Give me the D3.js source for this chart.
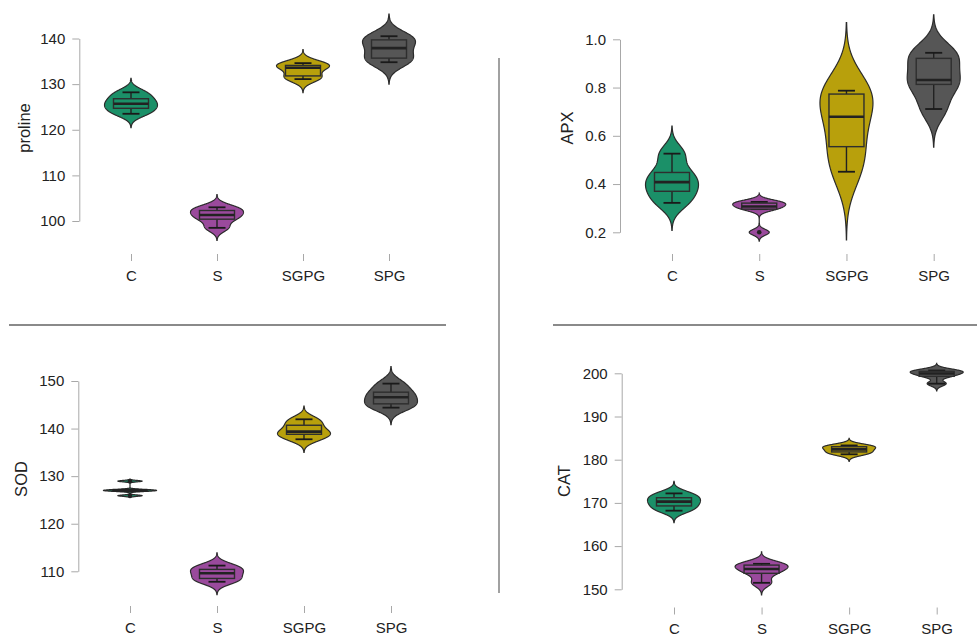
<!DOCTYPE html>
<html>
<head>
<meta charset="utf-8">
<script src="https://cdnjs.cloudflare.com/ajax/libs/d3/7.8.5/d3.min.js"></script>
<style>
    body { margin: 0; background: #fff; }
    svg text { font-family: "Liberation Sans", Arial, sans-serif; fill: #222; }
</style>
</head>
<body>
<svg id="chart" width="977" height="636"></svg>
<script>

// groups shared by all four panels
const groups = ['C', 'S', 'SGPG', 'SPG'];
const groupColors = ['#1b9068', '#9a4a9c', '#b8a00c', '#565656'];

const prolineValues = [
    [123.5, 124.7, 125.7, 126.8, 128.2],
    [98.5, 100.4, 101.3, 102.3, 103.0],
    [131.1, 131.8, 133.6, 134.1, 134.6],
    [134.8, 135.7, 137.9, 139.7, 140.5]
];
const apxValues = [
    [0.322, 0.370, 0.408, 0.448, 0.526],
    [0.200, 0.296, 0.307, 0.321, 0.326],
    [0.451, 0.555, 0.679, 0.773, 0.787],
    [0.711, 0.813, 0.831, 0.921, 0.944]
];
const sodValues = [
    [125.9, 126.85, 127.0, 127.15, 128.95],
    [107.8, 108.5, 109.6, 110.4, 111.2],
    [137.75, 138.8, 139.35, 140.7, 141.95],
    [144.4, 145.2, 146.6, 147.65, 149.45]
];
const catValues = [
    [168.2, 169.3, 170.3, 171.2, 172.2],
    [151.5, 153.7, 154.7, 155.6, 155.9],
    [181.25, 181.8, 182.4, 183.0, 183.3],
    [197.6, 199.3, 199.95, 200.45, 200.65]
];

const prolineTicks = [100, 110, 120, 130, 140];
const apxTicks = [0.2, 0.4, 0.6, 0.8, 1.0];
const sodTicks = [110, 120, 130, 140, 150];
const catTicks = [150, 160, 170, 180, 190, 200];

const svg = d3.select('#chart');

class ViolinPanel {

    constructor(layout)
    {
        this.layout = layout;
        this.halfWidth = 26.5;   // widest point of every violin
        this.boxHalf = 17.5;
        this.capHalf = 8.5;
    }

    // gaussian kde, bandwidth like R's bw.nrd0, tails cut at 3 bw (ggplot default)
    density(sorted)
    {
        let q1 = d3.quantileSorted(sorted, 0.25);
        let q3 = d3.quantileSorted(sorted, 0.75);
        let sd = d3.deviation(sorted);
        let lo = Math.min(sd, (q3 - q1) / 1.34);
        if(!lo) lo = sd || Math.abs(sorted[0]) || 1;
        let bw = 0.9 * lo * Math.pow(sorted.length, -0.2);

        let from = sorted[0] - 3 * bw;
        let to = sorted[sorted.length - 1] + 3 * bw;
        let n = 256;
        return d3.range(n).map(function(i){
            let v = from + (to - from) * i / (n - 1);
            let d = 0;
            sorted.forEach(function(x){
                let z = (v - x) / bw;
                d += Math.exp(-0.5 * z * z);
            });
            return {'v': v, 'd': d};
        });
    }

    draw(title, values, ticks, format)
    {
        let L = this.layout;
        let g = svg.append('g');

        this.yScale = d3.scaleLinear()
            .domain([ticks[0], ticks[ticks.length - 1]])
            .range([L.bottom, L.top]);

        this.xScale = d3.scalePoint()
            .domain(groups)
            .range([L.firstX, L.lastX]);

        // y axis
        let yAxis = d3.axisLeft(this.yScale)
            .tickValues(ticks)
            .tickFormat(d3.format(format))
            .tickSize(7)
            .tickSizeOuter(0)
            .tickPadding(7);

        let ya = g.append('g')
            .attr('transform', 'translate(' + L.axisX + ',0)')
            .call(yAxis);
        ya.select('.domain').attr('stroke', '#a8a8a8');
        ya.selectAll('.tick line').attr('stroke', '#a8a8a8');
        ya.selectAll('.tick text').style('font-size', '15px').attr('fill', '#222');

        // x axis: only ticks and labels
        let xAxis = d3.axisBottom(this.xScale)
            .tickSize(7)
            .tickSizeOuter(0)
            .tickPadding(9);

        let xa = g.append('g')
            .attr('transform', 'translate(0,' + L.tickY + ')')
            .call(xAxis);
        xa.select('.domain').remove();
        xa.selectAll('.tick line').attr('stroke', '#a8a8a8');
        xa.selectAll('.tick text').style('font-size', '15px').attr('fill', '#222');

        g.append('text')
            .attr('transform', 'translate(' + L.titleX + ',' + L.titleY + ') rotate(-90)')
            .attr('text-anchor', 'middle')
            .attr('dy', '0.35em')
            .style('font-size', '16.5px')
            .text(title);

        values.forEach((vals, i) => {
            this.drawViolin(g, groups[i], vals, groupColors[i]);
        });
    }

    drawViolin(g, name, vals, color)
    {
        let sorted = vals.slice().sort(d3.ascending);
        let cx = this.xScale(name);
        let y = this.yScale;

        let dens = this.density(sorted);
        let maxD = d3.max(dens, d => d.d);
        let w = d3.scaleLinear().domain([0, maxD]).range([0, this.halfWidth]);

        let area = d3.area()
            .y(d => y(d.v))
            .x0(d => cx - w(d.d))
            .x1(d => cx + w(d.d));

        g.append('path')
            .datum(dens)
            .attr('d', area)
            .attr('fill', color)
            .attr('stroke', '#2b2b2b')
            .attr('stroke-width', 1.2);

        // boxplot stats
        let q1 = d3.quantileSorted(sorted, 0.25);
        let med = d3.quantileSorted(sorted, 0.5);
        let q3 = d3.quantileSorted(sorted, 0.75);
        let iqr = q3 - q1;
        let inside = sorted.filter(v => v >= q1 - 1.5 * iqr && v <= q3 + 1.5 * iqr);
        let outliers = sorted.filter(v => v < q1 - 1.5 * iqr || v > q3 + 1.5 * iqr);
        let wLo = d3.min(inside), wHi = d3.max(inside);

        // whiskers
        [[wLo, q1], [wHi, q3]].forEach(pair => {
            g.append('line')
                .attr('x1', cx).attr('x2', cx)
                .attr('y1', y(pair[0])).attr('y2', y(pair[1]))
                .attr('stroke', '#222').attr('stroke-width', 1.4);
            g.append('line')
                .attr('x1', cx - this.capHalf).attr('x2', cx + this.capHalf)
                .attr('y1', y(pair[0])).attr('y2', y(pair[0]))
                .attr('stroke', '#1a1a1a').attr('stroke-width', 1.8);
        });

        g.append('rect')
            .attr('x', cx - this.boxHalf)
            .attr('y', y(q3))
            .attr('width', this.boxHalf * 2)
            .attr('height', Math.max(0.5, y(q1) - y(q3)))
            .attr('fill', color)
            .attr('stroke', '#2e2e2e')
            .attr('stroke-width', 1.4);

        g.append('line')
            .attr('x1', cx - this.boxHalf).attr('x2', cx + this.boxHalf)
            .attr('y1', y(med)).attr('y2', y(med))
            .attr('stroke', '#222').attr('stroke-width', 2.6);

        g.selectAll(null)
            .data(outliers)
            .enter()
            .append('circle')
            .attr('cx', cx)
            .attr('cy', d => y(d))
            .attr('r', 2.3)
            .attr('fill', '#222');
    }
}

// separators between the four plots
svg.append('line').attr('x1', 9).attr('x2', 446).attr('y1', 325).attr('y2', 325)
    .attr('stroke', '#8a8a8a').attr('stroke-width', 2);
svg.append('line').attr('x1', 553).attr('x2', 977).attr('y1', 325).attr('y2', 325)
    .attr('stroke', '#8a8a8a').attr('stroke-width', 2);
svg.append('line').attr('x1', 499).attr('x2', 499).attr('y1', 58).attr('y2', 593)
    .attr('stroke', '#8a8a8a').attr('stroke-width', 1.6);

new ViolinPanel({axisX: 79.3, top: 38.5, bottom: 221, firstX: 131, lastX: 389,
    tickY: 254, titleX: 24, titleY: 128}).draw('proline', prolineValues, prolineTicks, 'd');

new ViolinPanel({axisX: 620, top: 39.3, bottom: 232.3, firstX: 672, lastX: 933.7,
    tickY: 254, titleX: 567.7, titleY: 128}).draw('APX', apxValues, apxTicks, '.1f');

new ViolinPanel({axisX: 78.3, top: 381, bottom: 571.3, firstX: 130, lastX: 391,
    tickY: 606, titleX: 21.7, titleY: 479}).draw('SOD', sodValues, sodTicks, 'd');

new ViolinPanel({axisX: 621.7, top: 373.3, bottom: 589.3, firstX: 674, lastX: 936.7,
    tickY: 607.5, titleX: 564, titleY: 481}).draw('CAT', catValues, catTicks, 'd');

</script>
</body>
</html>
